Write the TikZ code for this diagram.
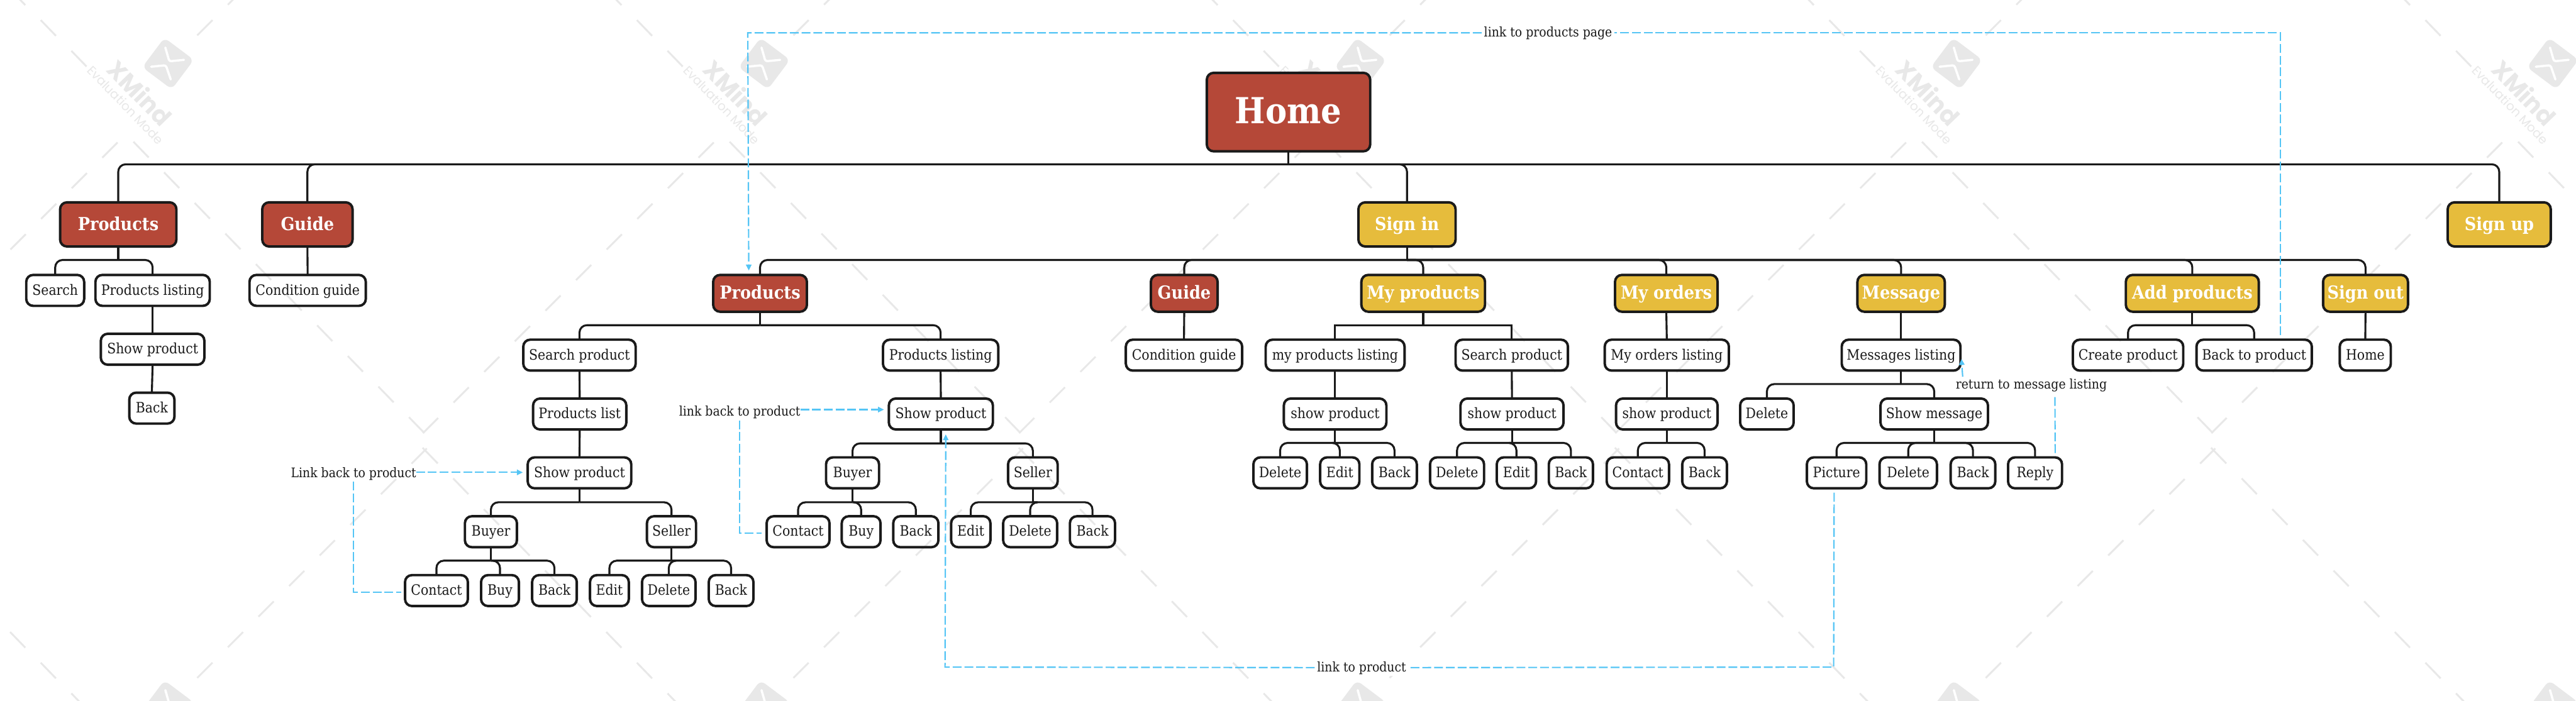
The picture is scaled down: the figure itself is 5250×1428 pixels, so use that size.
\documentclass[tikz,border=0pt]{standalone}
\usepackage{fontspec}
\usetikzlibrary{arrows.meta,calc}
\newfontfamily\bodyf{DejaVu Serif Condensed}
\newfontfamily\wmf{Poppins}
\definecolor{ink}{HTML}{1A1A1A}
\definecolor{redt}{HTML}{B54838}
\definecolor{yelt}{HTML}{E6BC3C}
\definecolor{linkc}{HTML}{55C5F5}
\definecolor{wm}{HTML}{E8E8E8}
\tikzset{
  base/.style={draw=ink,line width=0.1cm,rounded corners=0.28cm,inner sep=0,outer sep=0,align=center},
  leaf/.style={base,text=ink,font=\bodyf\fontsize{16.6pt}{20pt}\selectfont,text height=12pt,text depth=1.5pt},
  redbox/.style={base,fill=redt,text=white,font=\bodyf\bfseries\fontsize{20.8pt}{24pt}\selectfont,text height=15.2pt,text depth=1.8pt},
  yelbox/.style={base,fill=yelt,text=white,font=\bodyf\bfseries\fontsize{20.8pt}{24pt}\selectfont,text height=15.2pt,text depth=1.8pt},
  rootbox/.style={base,fill=redt,text=white,font=\bodyf\bfseries\fontsize{41.6pt}{50pt}\selectfont,text height=30.4pt,text depth=3.5pt},
  conn/.style={draw=ink,line width=0.08cm,rounded corners=0.3cm},
  sqconn/.style={draw=ink,line width=0.08cm},
  linkl/.style={draw=linkc,line width=0.055cm,dash pattern=on 0.36cm off 0.12cm},
  linka/.style={linkl,-{Triangle[length=0.24cm,width=0.22cm,fill=linkc]}},
  lbl/.style={inner sep=0,outer sep=0,minimum height=0.68cm,text=ink,font=\bodyf\fontsize{15.3pt}{18pt}\selectfont,text height=11.2pt,text depth=2pt},
  wmline/.style={draw=wm,line width=0.075cm},
}
\newcommand\tb[7]{\node[#2,minimum width={(#4-#3-5)*0.02cm},minimum height={(#6-#5-5)*0.02cm}] (#1) at ({(#3+#4)/2},{(#5+#6)/2}) {#7};}
\newcommand\branch[3]{\draw[conn] (#1.south) -- (#1.south |- 0,#2); \draw[conn] (#1.south |- 0,#2) -- (#3.north |- 0,#2) -- (#3.north);}
\newcommand\sqbranch[3]{\draw[sqconn] (#1.south) -- (#1.south |- 0,#2) -- (#3.north |- 0,#2) -- (#3.north);}
\newcommand\stem[2]{\draw[conn] (#1.south) -- (#2.north);}
\begin{document}
\begin{tikzpicture}[x=0.02cm,y=-0.02cm]
\useasboundingbox (0,0) rectangle (5250,1428);
\fill[white] (0,0) rectangle (5250,1428);
% watermark
\begin{scope}
\clip (0,0) rectangle (5250,1428);
\foreach \i in {-1,...,4} \foreach \j in {-1,0,1} {
  \begin{scope}[shift={(1215*\i,1310*\j)}]
    \foreach \k in {-7,...,1} \draw[wmline] ({83+62.4*\k},{41+62.6*\k}) -- ++(31,32);
    \foreach \k in {0,...,9} \draw[wmline] ({272+62.4*\k},{289+62.4*\k}) -- ++(31,32);
    \foreach \k in {0,...,9} \draw[wmline] ({862+62.4*\k},{883-62.4*\k}) -- ++(31,-31);
    \foreach \k in {0,...,7} \draw[wmline] ({433+62.4*\k},{1351-62.4*\k}) -- ++(-31,31);
  \end{scope}
}
\foreach \i in {0,...,4} \foreach \j in {0,1} {
  \begin{scope}[shift={(342+1215*\i,129+1310*\j)}]
    \fill[wm,rounded corners=0.22cm] (-7,-52) -- (53,-7) -- (8,53) -- (-52,8) -- cycle;
    \draw[white,line width=0.09cm,line cap=round,rounded corners=0.08cm] (-5,-32) -- (3,-4) -- (33,-7);
    \draw[white,line width=0.09cm,line cap=round,rounded corners=0.08cm] (-34,7) -- (-4,4) -- (6,33);
  \end{scope}
}
\foreach \i in {0,...,4} {
  \begin{scope}[shift={(342+1215*\i,129)}]
    \node[rotate=-46,text=wm,font=\wmf\bfseries\fontsize{28pt}{30pt}\selectfont,inner sep=0] at (-57,60) {XMind};
    \node[rotate=-46,text=wm,font=\wmf\fontsize{14.5pt}{16pt}\selectfont,inner sep=0] at (-86,85) {Evaluation Mode};
  \end{scope}
}
\end{scope}
% root and first level
\tb{home}{rootbox}{2457}{2795}{146}{311}{Home}
\tb{prodA}{redbox}{120}{362}{410}{505}{Products}
\tb{guideA}{redbox}{532}{721}{410}{505}{Guide}
\tb{signin}{yelbox}{2766}{2969}{410}{505}{Sign in}
\tb{signup}{yelbox}{4986}{5201}{410}{505}{Sign up}
% left subtrees
\tb{searchA}{leaf}{51}{174}{558}{626}{Search}
\tb{listA}{leaf}{192}{430}{558}{626}{Products listing}
\tb{condA}{leaf}{506}{748}{558}{626}{Condition guide}
\tb{showA}{leaf}{203}{419}{678}{746}{Show product}
\tb{backA}{leaf}{261}{358}{798}{866}{Back}
% sign in children
\tb{prodB}{redbox}{1451}{1647}{558}{638}{Products}
\tb{guideB}{redbox}{2343}{2484}{558}{638}{Guide}
\tb{myprod}{yelbox}{2772}{3029}{558}{638}{My products}
\tb{myord}{yelbox}{3289}{3503}{558}{638}{My orders}
\tb{msg}{yelbox}{3783}{3966}{558}{638}{Message}
\tb{addp}{yelbox}{4330}{4606}{558}{638}{Add products}
\tb{signout}{yelbox}{4732}{4910}{558}{638}{Sign out}
% products B
\tb{searchB}{leaf}{1064}{1298}{690}{758}{Search product}
\tb{listB}{leaf}{1084}{1279}{810}{878}{Products list}
\tb{showB}{leaf}{1073}{1289}{930}{998}{Show product}
\tb{buyerB}{leaf}{945}{1056}{1050}{1118}{Buyer}
\tb{sellerB}{leaf}{1316}{1421}{1050}{1118}{Seller}
\tb{contB}{leaf}{823}{956}{1170}{1238}{Contact}
\tb{buyB}{leaf}{978}{1060}{1170}{1238}{Buy}
\tb{bkB}{leaf}{1082}{1178}{1170}{1238}{Back}
\tb{editB}{leaf}{1200}{1284}{1170}{1238}{Edit}
\tb{delB}{leaf}{1306}{1420}{1170}{1238}{Delete}
\tb{bkC}{leaf}{1442}{1538}{1170}{1238}{Back}
\tb{listC}{leaf}{1797}{2037}{690}{758}{Products listing}
\tb{showC}{leaf}{1809}{2026}{810}{878}{Show product}
\tb{buyerC}{leaf}{1681}{1794}{930}{998}{Buyer}
\tb{sellerC}{leaf}{2052}{2158}{930}{998}{Seller}
\tb{contC}{leaf}{1560}{1693}{1050}{1118}{Contact}
\tb{buyC}{leaf}{1713}{1797}{1050}{1118}{Buy}
\tb{bkD}{leaf}{1818}{1915}{1050}{1118}{Back}
\tb{editC}{leaf}{1936}{2021}{1050}{1118}{Edit}
\tb{delC}{leaf}{2042}{2157}{1050}{1118}{Delete}
\tb{bkE}{leaf}{2178}{2275}{1050}{1118}{Back}
% guide
\tb{condB}{leaf}{2292}{2534}{690}{758}{Condition guide}
% my products
\tb{mpl}{leaf}{2577}{2865}{690}{758}{my products listing}
\tb{mps}{leaf}{2964}{3198}{690}{758}{Search product}
\tb{mpsa}{leaf}{2614}{2828}{810}{878}{show product}
\tb{mpsb}{leaf}{2974}{3189}{810}{878}{show product}
\tb{da}{leaf}{2552}{2666}{930}{998}{Delete}
\tb{ea}{leaf}{2688}{2773}{930}{998}{Edit}
\tb{ba}{leaf}{2794}{2890}{930}{998}{Back}
\tb{db}{leaf}{2912}{3027}{930}{998}{Delete}
\tb{eb}{leaf}{3048}{3133}{930}{998}{Edit}
\tb{bb}{leaf}{3154}{3249}{930}{998}{Back}
% my orders
\tb{mol}{leaf}{3268}{3526}{690}{758}{My orders listing}
\tb{mos}{leaf}{3291}{3503}{810}{878}{show product}
\tb{moc}{leaf}{3272}{3404}{930}{998}{Contact}
\tb{mob}{leaf}{3426}{3522}{930}{998}{Back}
% message
\tb{msl}{leaf}{3751}{3998}{690}{758}{Messages listing}
\tb{msd}{leaf}{3544}{3658}{810}{878}{Delete}
\tb{mss}{leaf}{3830}{4054}{810}{878}{Show message}
\tb{pic}{leaf}{3680}{3806}{930}{998}{Picture}
\tb{msda}{leaf}{3828}{3950}{930}{998}{Delete}
\tb{msb}{leaf}{3973}{4069}{930}{998}{Back}
\tb{rep}{leaf}{4090}{4205}{930}{998}{Reply}
% add products
\tb{crp}{leaf}{4222}{4452}{690}{758}{Create product}
\tb{btp}{leaf}{4474}{4714}{690}{758}{Back to product}
\tb{hm}{leaf}{4766}{4875}{690}{758}{Home}
% tree connectors
\branch{home}{335}{prodA}\branch{home}{335}{guideA}\branch{home}{335}{signin}\branch{home}{335}{signup}
\branch{prodA}{530}{searchA}\branch{prodA}{530}{listA}
\stem{guideA}{condA}\stem{listA}{showA}\stem{showA}{backA}
\branch{signin}{530}{prodB}\branch{signin}{530}{guideB}\branch{signin}{530}{myprod}\branch{signin}{530}{myord}\branch{signin}{530}{msg}\branch{signin}{530}{addp}\branch{signin}{530}{signout}
\branch{prodB}{663}{searchB}\branch{prodB}{663}{listC}
\stem{searchB}{listB}\stem{listB}{showB}
\branch{showB}{1024}{buyerB}\branch{showB}{1024}{sellerB}
\branch{buyerB}{1143}{contB}\branch{buyerB}{1143}{buyB}\branch{buyerB}{1143}{bkB}
\branch{sellerB}{1143}{editB}\branch{sellerB}{1143}{delB}\branch{sellerB}{1143}{bkC}
\stem{listC}{showC}
\branch{showC}{904}{buyerC}\branch{showC}{904}{sellerC}
\branch{buyerC}{1024}{contC}\branch{buyerC}{1024}{buyC}\branch{buyerC}{1024}{bkD}
\branch{sellerC}{1024}{editC}\branch{sellerC}{1024}{delC}\branch{sellerC}{1024}{bkE}
\stem{guideB}{condB}
\sqbranch{myprod}{663}{mpl}\sqbranch{myprod}{663}{mps}
\stem{mpl}{mpsa}\stem{mps}{mpsb}
\branch{mpsa}{903}{da}\branch{mpsa}{903}{ea}\branch{mpsa}{903}{ba}
\branch{mpsb}{903}{db}\branch{mpsb}{903}{eb}\branch{mpsb}{903}{bb}
\stem{myord}{mol}\stem{mol}{mos}
\branch{mos}{903}{moc}\branch{mos}{903}{mob}
\stem{msg}{msl}
\branch{msl}{783}{msd}\branch{msl}{783}{mss}
\branch{mss}{903}{pic}\branch{mss}{903}{msda}\branch{mss}{903}{msb}\branch{mss}{903}{rep}
\branch{addp}{663}{crp}\branch{addp}{663}{btp}
\stem{signout}{hm}
% link labels
\node[lbl] (la) at (720.5,965) {Link back to product};
\node[lbl] (lb) at (1507.5,840) {link back to product};
\node[lbl,fill=white,inner xsep=0.1cm] (lc) at (3155,67) {link to products page};
\node[lbl,fill=white,inner xsep=0.1cm] (ld) at (2775,1361) {link to product};
\node[lbl] (le) at (4140,785) {return to message listing};
% relationship connectors
\draw[linka] (la.east |- 0,963) -- ($(showB.west |- 0,963)+(-10,0)$);
\draw[linkl] (la.south) -- (la.south |- 0,1207) -- ($(contB.west |- 0,1207)+(-8,0)$);
\draw[linka] (lb.east |- 0,835) -- ($(showC.west |- 0,835)+(-10,0)$);
\draw[linkl] (lb.south) -- (lb.south |- 0,1087) -- ($(contC.west |- 0,1087)+(-10,0)$);
\draw[linkl] ($(btp.north)+(53,-9)$) -- (4647,67) -- (lc.east);
\draw[linka] (lc.west) -- (1524,67) -- ($(prodB.north)+(-23,-9)$);
\draw[linkl] ($(pic.south)+(-5,9)$) -- (3737,1360) -- (ld.east);
\draw[linka] (ld.west) -- (1926,1360) -- ($(showC.south)+(10,10)$);
\draw[linkl] ($(rep.north)+(41,-9)$) -- (4188,807);
\draw[linka] (4000,768) -- ($(msl.east)+(2,8)$);
\end{tikzpicture}
\end{document}
